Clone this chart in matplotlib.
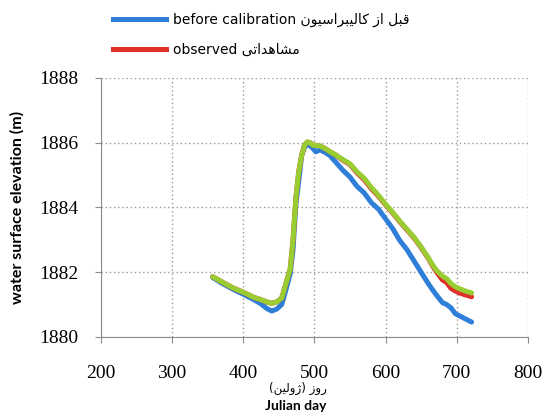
import matplotlib
matplotlib.use("Agg")
import matplotlib.pyplot as plt
from matplotlib.lines import Line2D

# Julian day
days = [357, 370, 385, 400, 415, 425, 433, 440, 447, 454, 458, 462, 466, 470,
        474, 478, 482, 486, 490, 494, 498, 502, 508, 515, 522, 530, 540, 550,
        560, 570, 580, 590, 600, 610, 620, 630, 640, 650, 660, 666, 672, 680,
        686, 692, 698, 705, 712, 721]

before_cal = [1881.84, 1881.66, 1881.48, 1881.32, 1881.15, 1881.02, 1880.88, 1880.80,
              1880.86, 1881.00, 1881.30, 1881.62, 1881.95, 1882.70, 1884.10, 1884.80,
              1885.60, 1885.85, 1885.95, 1885.90, 1885.82, 1885.72, 1885.78, 1885.70,
              1885.60, 1885.40, 1885.15, 1884.94, 1884.65, 1884.45, 1884.15, 1883.95,
              1883.65, 1883.35, 1882.98, 1882.70, 1882.35, 1882.00, 1881.65, 1881.46,
              1881.28, 1881.06, 1881.00, 1880.90, 1880.72, 1880.64, 1880.56, 1880.46]

observed = [1881.86, 1881.70, 1881.52, 1881.38, 1881.22, 1881.15, 1881.08, 1881.04,
            1881.08, 1881.20, 1881.50, 1881.80, 1882.10, 1883.00, 1884.30, 1885.10,
            1885.60, 1885.92, 1886.02, 1886.00, 1885.92, 1885.92, 1885.90, 1885.82,
            1885.72, 1885.62, 1885.46, 1885.33, 1885.07, 1884.86, 1884.58, 1884.35,
            1884.08, 1883.83, 1883.56, 1883.31, 1883.06, 1882.76, 1882.43, 1882.20,
            1882.00, 1881.76, 1881.68, 1881.50, 1881.42, 1881.35, 1881.30, 1881.24]

after_cal = [1881.86, 1881.70, 1881.52, 1881.38, 1881.22, 1881.15, 1881.08, 1881.04,
             1881.08, 1881.20, 1881.50, 1881.80, 1882.10, 1883.00, 1884.30, 1885.10,
             1885.60, 1885.92, 1886.02, 1886.00, 1885.92, 1885.92, 1885.90, 1885.82,
             1885.72, 1885.62, 1885.48, 1885.35, 1885.10, 1884.90, 1884.62, 1884.38,
             1884.10, 1883.85, 1883.58, 1883.33, 1883.08, 1882.78, 1882.45, 1882.23,
             1882.05, 1881.88, 1881.80, 1881.65, 1881.55, 1881.48, 1881.42, 1881.36]

xticks = [200, 300, 400, 500, 600, 700, 800]
yticks = [1880, 1882, 1884, 1886, 1888]

# presentation forms: isolated, final, initial, medial
FORMS = {
    "ا": ("\uFE8D", "\uFE8E", None, None),
    "ب": ("\uFE8F", "\uFE90", "\uFE91", "\uFE92"),
    "ت": ("\uFE95", "\uFE96", "\uFE97", "\uFE98"),
    "د": ("\uFEA9", "\uFEAA", None, None),
    "ر": ("\uFEAD", "\uFEAE", None, None),
    "ز": ("\uFEAF", "\uFEB0", None, None),
    "ژ": ("\uFB8A", "\uFB8B", None, None),
    "س": ("\uFEB1", "\uFEB2", "\uFEB3", "\uFEB4"),
    "ش": ("\uFEB5", "\uFEB6", "\uFEB7", "\uFEB8"),
    "ق": ("\uFED5", "\uFED6", "\uFED7", "\uFED8"),
    "ک": ("\uFB8E", "\uFB8F", "\uFB90", "\uFB91"),
    "ل": ("\uFEDD", "\uFEDE", "\uFEDF", "\uFEE0"),
    "م": ("\uFEE1", "\uFEE2", "\uFEE3", "\uFEE4"),
    "ن": ("\uFEE5", "\uFEE6", "\uFEE7", "\uFEE8"),
    "ه": ("\uFEE9", "\uFEEA", "\uFEEB", "\uFEEC"),
    "و": ("\uFEED", "\uFEEE", None, None),
    "ی": ("\uFBFC", "\uFBFD", "\uFBFE", "\uFBFF"),
}


def persian(text):
    # crude shaping + right-to-left ordering for matplotlib
    out = []
    for i, c in enumerate(text):
        if c not in FORMS:
            out.append(c)
            continue
        prev = text[i - 1] if i > 0 else ""
        nxt = text[i + 1] if i + 1 < len(text) else ""
        jp = prev in FORMS and FORMS[prev][2] is not None
        jn = FORMS[c][2] is not None and nxt in FORMS
        f = FORMS[c]
        out.append(f[3] if jp and jn else f[1] if jp else f[2] if jn else f[0])
    s = "".join(out)[::-1]
    return s.translate(str.maketrans("()", ")("))


fig = plt.figure(figsize=(5.43, 4.17), dpi=100)
ax = fig.add_axes([0.186, 0.192, 0.786, 0.621])

ax.plot(days, before_cal, color="#2F7FD8", lw=3.6, solid_capstyle="round")
ax.plot(days, observed, color="#E0302A", lw=3.6, solid_capstyle="round")
ax.plot(days, after_cal, color="#9ACD32", lw=3.6, solid_capstyle="round")

ax.set_xlim(200, 800)
ax.set_ylim(1880, 1888)
ax.set_xticks(xticks)
ax.set_yticks(yticks)
ax.grid(True, color="#999999", linestyle=(0, (1, 2)), linewidth=1)
ax.set_axisbelow(True)
for s in ["top", "right"]:
    ax.spines[s].set_visible(False)
for s in ["left", "bottom"]:
    ax.spines[s].set_color("#8c8c8c")
ax.tick_params(length=4, color="#8c8c8c", pad=12)
ax.tick_params(axis="x", pad=16)
for lab in ax.get_xticklabels() + ax.get_yticklabels():
    lab.set_fontfamily("Liberation Serif")
    lab.set_fontsize(14)

ax.set_ylabel("water surface elevation (m)", fontfamily="Lato", fontweight="bold",
              fontsize=11.5)
ax.yaxis.set_label_coords(-0.18, 0.5)

fig.text(0.549, 0.068, persian("روز (ژولین)"), ha="center", va="center",
         fontfamily="DejaVu Sans", fontsize=8.5)
fig.text(0.545, 0.026, "Julian day", ha="center", va="center",
         fontfamily="Lato", fontweight="bold", fontsize=10)

handles = [Line2D([], [], color="#2F7FD8", lw=3.6),
           Line2D([], [], color="#E0302A", lw=3.6)]
labels = ["before calibration " + persian("قبل از کالیبراسیون"),
          "observed " + persian("مشاهداتی")]
fig.legend(handles, labels, loc="upper left", bbox_to_anchor=(0.185, 1.0),
           frameon=False, prop={"family": "DejaVu Sans", "size": 10},
           handlelength=3.8, handletextpad=0.5, labelspacing=1.15)

fig.savefig("out.png", dpi=100)
